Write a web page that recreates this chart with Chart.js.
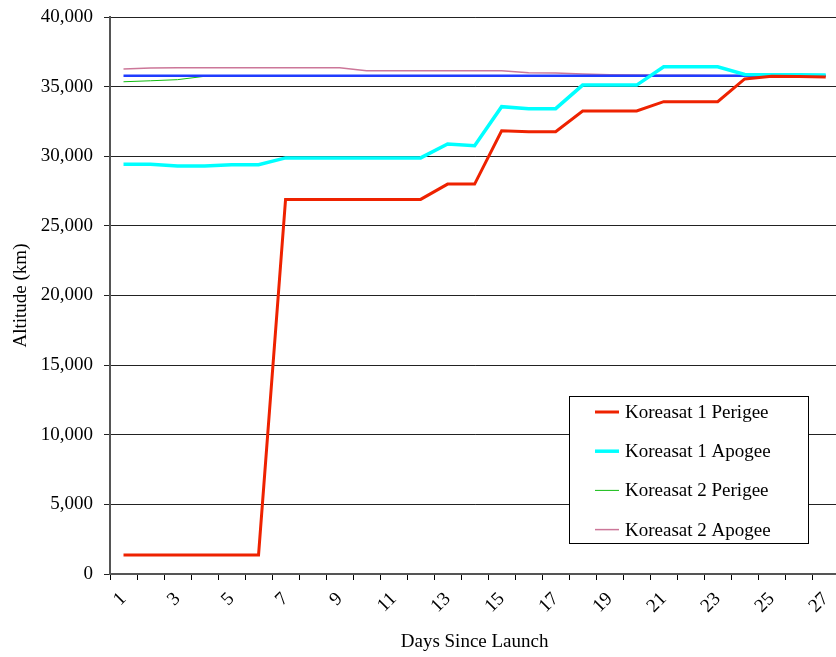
<!DOCTYPE html>
<html>
<head>
<meta charset="utf-8">
<script src="https://cdn.jsdelivr.net/npm/chart.js@4/dist/chart.umd.min.js"></script>
<style>
  html, body { margin: 0; padding: 0; background: #fff; overflow: hidden; }
  canvas { display: block; }
</style>
</head>
<body>
<canvas id="orbit" width="850" height="657"></canvas>
<script>
// Days since launch (category labels)
const days = [1, 2, 3, 4, 5, 6, 7, 8, 9, 10, 11, 12, 13, 14, 15, 16, 17, 18, 19, 20, 21, 22, 23, 24, 25, 26, 27];

// Altitudes in km
const k1Perigee = [1370, 1370, 1370, 1370, 1370, 1370, 26900, 26900, 26900, 26900, 26900, 26900, 28000, 28000,
  31830, 31760, 31760, 33250, 33250, 33250, 33920, 33920, 33920, 35550, 35740, 35720, 35700];
const k1Apogee = [29420, 29420, 29300, 29300, 29390, 29390, 29880, 29880, 29880, 29880, 29880, 29880, 30880, 30760,
  33560, 33420, 33420, 35110, 35110, 35110, 36430, 36430, 36430, 35870, 35860, 35850, 35840];
const k2Perigee = [35350, 35420, 35500, 35740, 35780, 35780, 35780, 35780, 35780, 35780, 35780, 35780, 35780, 35780,
  35780, 35780, 35780, 35780, 35780, 35780, 35780, 35780, 35780, 35780, 35780, 35780, 35780];
const k2Apogee = [36270, 36330, 36360, 36360, 36360, 36360, 36360, 36360, 36360, 36140, 36140, 36140, 36140, 36140,
  36140, 36000, 35970, 35900, 35850, 35830, 35820, 35810, 35800, 35800, 35790, 35780, 35770];
const geoAltitude = [35786, 35786, 35786, 35786, 35786, 35786, 35786, 35786, 35786, 35786, 35786, 35786, 35786, 35786,
  35786, 35786, 35786, 35786, 35786, 35786, 35786, 35786, 35786, 35786, 35786, 35786, 35786];

const yTicks = [0, 5000, 10000, 15000, 20000, 25000, 30000, 35000, 40000];

const serif = "'Times New Roman', 'Liberation Serif', serif";

// Legend drawn inside the plot, like the original
const boxLegend = {
  id: 'boxLegend',
  afterDraw(chart) {
    const ctx = chart.ctx;
    const items = chart.data.datasets.filter(d => !d.hideInLegend);
    const x = 569.5, y = 396.5, w = 239, h = 147;
    ctx.save();
    ctx.fillStyle = '#fff';
    ctx.fillRect(x, y, w, h);
    ctx.strokeStyle = '#000';
    ctx.lineWidth = 1;
    ctx.strokeRect(x, y, w, h);
    ctx.font = '19px ' + serif;
    ctx.textBaseline = 'middle';
    ctx.fillStyle = '#000';
    items.forEach((ds, i) => {
      const cy = 412 + i * 39.2;
      ctx.strokeStyle = ds.borderColor;
      ctx.lineWidth = ds.borderWidth;
      ctx.beginPath();
      ctx.moveTo(595, cy);
      ctx.lineTo(619, cy);
      ctx.stroke();
      ctx.fillText(ds.label, 625, cy + 1);
    });
    ctx.restore();
  }
};

const ctx = document.getElementById('orbit').getContext('2d');
new Chart(ctx, {
  type: 'line',
  data: {
    labels: days,
    datasets: [
      { label: 'Koreasat 1 Perigee', data: k1Perigee, borderColor: '#ee2200', borderWidth: 3, order: 1 },
      { label: 'Koreasat 1 Apogee', data: k1Apogee, borderColor: '#00ffff', borderWidth: 3.5, order: 2 },
      { label: 'Koreasat 2 Perigee', data: k2Perigee, borderColor: '#11bb11', borderWidth: 1, order: 4 },
      { label: 'Koreasat 2 Apogee', data: k2Apogee, borderColor: '#cc7799', borderWidth: 1.5, order: 5 },
      { label: 'GEO', data: geoAltitude, borderColor: '#1f3cff', borderWidth: 2.5, order: 3, hideInLegend: true }
    ]
  },
  options: {
    responsive: false,
    animation: false,
    layout: { padding: { top: 17, right: 8, bottom: 0, left: 0 } },
    elements: {
      point: { radius: 0 },
      line: { tension: 0, fill: false }
    },
    plugins: {
      legend: { display: false },
      tooltip: { enabled: false }
    },
    scales: {
      x: {
        type: 'category',
        offset: true,
        grid: { offset: true, drawOnChartArea: false, tickLength: 6, color: '#000' },
        border: { color: '#555', width: 2 },
        ticks: {
          autoSkip: false,
          maxRotation: 45,
          minRotation: 45,
          padding: 8,
          color: '#000',
          font: { family: serif, size: 19 },
          callback: (val, i) => (i % 2 === 0 ? days[i] : '')
        },
        title: {
          display: true,
          text: 'Days Since Launch',
          color: '#000',
          font: { family: serif, size: 19 },
          padding: { top: 4, bottom: 4 }
        },
        afterFit: (scale) => { scale.height = 83; }
      },
      y: {
        min: 0,
        max: 40000,
        afterBuildTicks: (scale) => { scale.ticks = yTicks.map(v => ({ value: v })); },
        grid: { color: '#222', tickLength: 6 },
        border: { color: '#555', width: 2 },
        ticks: {
          padding: 11,
          color: '#000',
          font: { family: serif, size: 19 },
          callback: (v) => v.toLocaleString('en-US')
        },
        title: {
          display: true,
          text: 'Altitude (km)',
          color: '#000',
          font: { family: serif, size: 19 },
          padding: { top: 10, bottom: 0 }
        },
        afterFit: (scale) => {
          scale.width = 110;
          scale.paddingTop = 0;
          scale.paddingBottom = 0;
        }
      }
    }
  },
  plugins: [boxLegend]
});
</script>
</body>
</html>
